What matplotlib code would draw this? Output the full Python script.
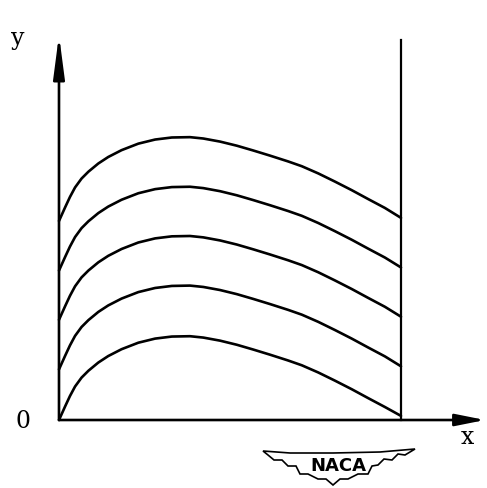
import matplotlib.pyplot as plt
from matplotlib.patches import Polygon

# Stream-line like curves (x from 0 to 1, same units on y)
x_vals = [0, 0.018, 0.032, 0.047, 0.066, 0.086, 0.115, 0.144, 0.183, 0.232,
          0.281, 0.330, 0.383, 0.422, 0.471, 0.520, 0.568, 0.617, 0.670, 0.710,
          0.758, 0.807, 0.856, 0.904, 0.953, 1.0]
curve_1 = [0, 0.040, 0.070, 0.098, 0.124, 0.144, 0.168, 0.187, 0.207, 0.226,
           0.238, 0.244, 0.245, 0.241, 0.232, 0.220, 0.206, 0.191, 0.174, 0.160,
           0.139, 0.115, 0.090, 0.064, 0.038, 0.012]
curve_2 = [0.148, 0.188, 0.218, 0.246, 0.272, 0.292, 0.316, 0.335, 0.355, 0.374,
           0.386, 0.392, 0.393, 0.389, 0.380, 0.368, 0.354, 0.339, 0.322, 0.308,
           0.287, 0.263, 0.238, 0.212, 0.186, 0.157]
curve_3 = [0.293, 0.333, 0.363, 0.391, 0.417, 0.437, 0.461, 0.480, 0.500, 0.519,
           0.531, 0.537, 0.538, 0.534, 0.525, 0.513, 0.499, 0.484, 0.467, 0.453,
           0.432, 0.408, 0.383, 0.357, 0.331, 0.302]
curve_4 = [0.437, 0.477, 0.507, 0.535, 0.561, 0.581, 0.605, 0.624, 0.644, 0.663,
           0.675, 0.681, 0.682, 0.678, 0.669, 0.657, 0.643, 0.628, 0.611, 0.597,
           0.576, 0.552, 0.527, 0.501, 0.475, 0.446]
curve_5 = [0.582, 0.622, 0.652, 0.680, 0.706, 0.726, 0.750, 0.769, 0.789, 0.808,
           0.820, 0.826, 0.827, 0.823, 0.814, 0.802, 0.788, 0.773, 0.756, 0.742,
           0.721, 0.697, 0.672, 0.646, 0.620, 0.591]
curves = [curve_1, curve_2, curve_3, curve_4, curve_5]

# Axis extents (data units)
Y_TOP = 1.126
X_TIP = 1.246
WALL_TOP = 1.111

fig = plt.figure(figsize=(4.87, 4.88), dpi=100)
ax = fig.add_axes([0, 0, 1, 1])
ax.set_xlim(-0.1725, 1.2515)
ax.set_ylim(-0.1988, 1.228)
ax.axis("off")

for c in curves:
    ax.plot(x_vals, c, color="black", lw=1.9, solid_capstyle="round",
            solid_joinstyle="round")

# right wall
ax.plot([1.0, 1.0], [0, WALL_TOP], color="black", lw=1.6)

# axes with arrows
ax.annotate("", xy=(0, Y_TOP), xytext=(0, 0),
            arrowprops=dict(arrowstyle="-|>,head_length=1.3,head_width=0.17",
                            mutation_scale=20, color="black", lw=1.9,
                            shrinkA=0, shrinkB=0))
ax.annotate("", xy=(X_TIP, 0), xytext=(0, 0),
            arrowprops=dict(arrowstyle="-|>,head_length=0.9,head_width=0.18",
                            mutation_scale=20, color="black", lw=1.9,
                            shrinkA=0, shrinkB=0))

# overlay in pixel coordinates for labels and the NACA badge
ov = fig.add_axes([0, 0, 1, 1])
ov.set_xlim(0, 487)
ov.set_ylim(488, 0)
ov.axis("off")
ov.patch.set_alpha(0)

ov.text(18, 38, "y", fontsize=17, family="DejaVu Serif", ha="center", va="center")
ov.text(23, 421, "0", fontsize=17, family="DejaVu Serif", ha="center", va="center")
ov.text(467, 437, "x", fontsize=17, family="DejaVu Serif", ha="center", va="center")

wing = [(263, 451), (290, 453), (333, 453), (380, 452), (415, 449),
        (405, 455), (398, 454), (392, 460), (384, 459), (378, 465), (372, 466),
        (368, 474), (358, 474), (348, 479), (340, 479), (333, 485), (326, 479),
        (318, 479), (308, 474), (300, 474), (296, 466), (288, 466), (282, 460),
        (274, 460), (268, 455)]
ov.add_patch(Polygon(wing, closed=True, facecolor="white", edgecolor="black", lw=1.2))
ov.text(338, 466, "NACA", fontsize=13, family="DejaVu Sans", weight="bold",
        ha="center", va="center")

fig.savefig("out.png", dpi=100)
